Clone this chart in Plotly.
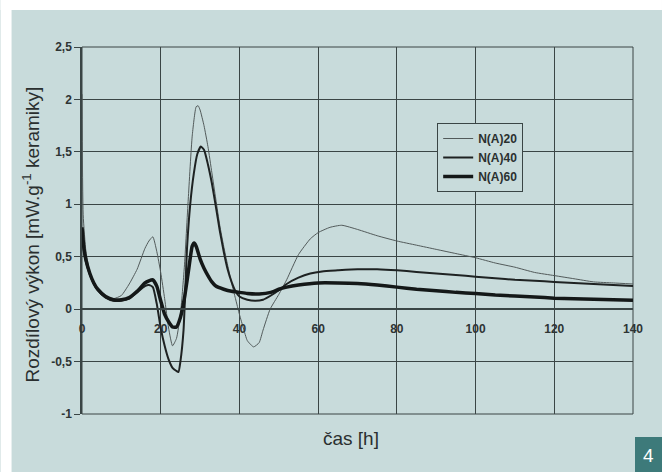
import plotly.graph_objects as go

# ---- data ----
t20 = [0, 0.3, 1, 2, 3, 4, 6, 8, 10, 12, 14, 16, 17, 18, 19, 20, 21, 22, 23, 24, 25, 26, 27, 28, 29,
       29.5, 30, 31, 32, 33, 34, 35, 36, 37, 38, 39, 40, 41, 42, 43.6, 45, 46, 47.8, 50, 52, 55, 58,
       60, 63, 66, 70, 75, 80, 85, 90, 95, 100, 105, 110, 115, 120, 125, 130, 135, 140]
v20 = [2.05, 0.9, 0.55, 0.35, 0.25, 0.19, 0.12, 0.1, 0.13, 0.24, 0.38, 0.58, 0.65, 0.69, 0.55, 0.35,
       0.1, -0.18, -0.35, -0.28, -0.05, 0.4, 1.05, 1.65, 1.93, 1.94, 1.9, 1.75, 1.55, 1.3, 1.05, 0.8,
       0.6, 0.42, 0.25, 0.1, -0.05, -0.18, -0.3, -0.36, -0.32, -0.2, 0.0, 0.14, 0.28, 0.52, 0.67,
       0.73, 0.78, 0.8, 0.76, 0.7, 0.65, 0.61, 0.57, 0.53, 0.49, 0.44, 0.4, 0.35, 0.32, 0.29, 0.26,
       0.25, 0.24]

t40 = [0, 0.5, 1, 2, 3, 4, 6, 8, 10, 12, 14, 16, 17, 18, 19, 20, 21, 22, 23, 24, 24.5, 25, 25.8,
       26.7, 27.5, 28.4, 29.3, 30.2, 31, 32, 33, 34, 35, 36, 37, 38, 39, 40, 42, 44, 46, 48, 50, 52,
       55, 58, 61, 65, 70, 75, 80, 85, 90, 95, 100, 105, 110, 115, 120, 125, 130, 135, 140]
v40 = [0.75, 0.55, 0.45, 0.33, 0.24, 0.18, 0.11, 0.08, 0.08, 0.1, 0.16, 0.22, 0.23, 0.21, 0.05, -0.18,
       -0.35, -0.48, -0.56, -0.59, -0.6, -0.5, -0.2, 0.59, 1.0, 1.29, 1.48, 1.55, 1.52, 1.38, 1.2,
       0.98, 0.75, 0.55, 0.38, 0.26, 0.17, 0.12, 0.09, 0.08, 0.09, 0.13, 0.18, 0.24, 0.3, 0.34, 0.36,
       0.37, 0.38, 0.38, 0.37, 0.355, 0.34, 0.325, 0.31, 0.295, 0.28, 0.27, 0.26, 0.25, 0.24, 0.23,
       0.22]

t60 = [0, 0.5, 1, 2, 3, 4, 6, 8, 10, 12, 14, 16, 17, 18, 19, 20, 21, 22, 23, 24, 25, 26, 27, 28,
       28.5, 29, 30, 31, 32, 33, 34, 36, 38, 40, 42, 45, 48, 50, 52, 55, 60, 65, 70, 75, 80, 85, 90,
       95, 100, 105, 110, 115, 120, 125, 130, 135, 140]
v60 = [0.78, 0.58, 0.47, 0.34, 0.25, 0.19, 0.12, 0.09, 0.09, 0.11, 0.17, 0.25, 0.27, 0.28, 0.22,
       0.08, -0.05, -0.12, -0.17, -0.17, -0.08, 0.1, 0.35, 0.6, 0.63, 0.6, 0.48, 0.39, 0.32, 0.26,
       0.22, 0.19, 0.17, 0.16, 0.15, 0.145, 0.16, 0.19, 0.21, 0.23, 0.25, 0.25, 0.245, 0.23, 0.21,
       0.19, 0.175, 0.16, 0.15, 0.135, 0.125, 0.115, 0.105, 0.1, 0.095, 0.09, 0.085]

series_names = ["N(A)20", "N(A)40", "N(A)60"]
x_ticks = [0, 20, 40, 60, 80, 100, 120, 140]
x_ticktext = ["0", "20", "40", "60", "80", "100", "120", "140"]
y_ticks = [-1, -0.5, 0, 0.5, 1, 1.5, 2, 2.5]
y_ticktext = ["-1", "-0,5", "0", "0,5", "1", "1,5", "2", "2,5"]

BG = "#c8dbdb"
GRID = "#3a4545"
FONT = "Liberation Sans, Arial, sans-serif"

fig = go.Figure()
fig.add_trace(go.Scatter(x=t20, y=v20, name=series_names[0], mode="lines",
                         line=dict(color="#525a5a", width=1, shape="spline", smoothing=0.5)))
fig.add_trace(go.Scatter(x=t40, y=v40, name=series_names[1], mode="lines",
                         line=dict(color="#1e2222", width=2, shape="spline", smoothing=0.5)))
fig.add_trace(go.Scatter(x=t60, y=v60, name=series_names[2], mode="lines",
                         line=dict(color="#141818", width=3.5, shape="spline", smoothing=0.5)))

L, R, T, B = 81.5, 29, 47, 58
W, H = 662, 472
pw, ph = W - L - R, H - T - B

def px(x):
    return (x - L) / pw

def py(y):
    return 1 - (y - T) / ph

fig.update_layout(
    width=W, height=H,
    margin=dict(l=L, r=R, t=T, b=B),
    paper_bgcolor=BG, plot_bgcolor=BG,
    showlegend=True,
    legend=dict(x=px(437), y=py(123), xanchor="left", yanchor="top",
                bgcolor=BG, bordercolor=GRID, borderwidth=1,
                font=dict(family=FONT, size=12, color="#2a3030", weight="bold"),
                itemwidth=30, tracegroupgap=0),
    xaxis=dict(range=[0, 140], tickvals=x_ticks, ticktext=x_ticktext,
               anchor="free", position=1 / 3.5,
               showline=True, linecolor=GRID, linewidth=1.5,
               showgrid=True, gridcolor=GRID, gridwidth=1,
               zeroline=False, ticks="", ticklabelstandoff=9,
               tickfont=dict(family=FONT, size=12, color="#2e3434", weight="bold")),
    yaxis=dict(range=[-1, 2.5], tickvals=y_ticks, ticktext=y_ticktext,
               showline=True, linecolor=GRID, linewidth=1.5,
               showgrid=True, gridcolor=GRID, gridwidth=1, zeroline=False,
               ticks="outside", ticklen=6, tickcolor=GRID,
               tickfont=dict(family=FONT, size=12, color="#2e3434", weight="bold")),
    shapes=[
        dict(type="rect", xref="paper", yref="paper", x0=0, x1=1, y0=0, y1=1,
             line=dict(color=GRID, width=1), layer="below"),
        dict(type="rect", xref="paper", yref="paper", x0=px(0), x1=px(W), y0=py(10), y1=py(0),
             line=dict(width=0), fillcolor="white", layer="below"),
        dict(type="rect", xref="paper", yref="paper", x0=px(0), x1=px(11), y0=py(H), y1=py(0),
             line=dict(width=0), fillcolor="white", layer="below"),
        dict(type="rect", xref="paper", yref="paper", x0=px(635), x1=px(W), y0=py(H), y1=py(437),
             line=dict(width=0), fillcolor="#3d7a7a", layer="above"),
    ],
    annotations=[
        dict(text="čas [h]", xref="paper", yref="paper", x=px(351), y=py(438),
             xanchor="center", yanchor="middle", showarrow=False,
             font=dict(family=FONT, size=19, color="#2a2f2f")),
        dict(text="Rozdílový výkon [mW.g<sup>-1</sup> keramiky]", xref="paper", yref="paper",
             x=px(30), y=py(235), xanchor="center", yanchor="middle", textangle=-90,
             showarrow=False, font=dict(family=FONT, size=19, color="#2a2f2f")),
        dict(text="4", xref="paper", yref="paper", x=px(649), y=py(456),
             xanchor="center", yanchor="middle", showarrow=False,
             font=dict(family=FONT, size=19, color="white")),
    ],
)

fig.write_html("out.html",
               config={"displayModeBar": False},
               post_script="document.body.style.margin='0';document.body.style.overflow='hidden';")
